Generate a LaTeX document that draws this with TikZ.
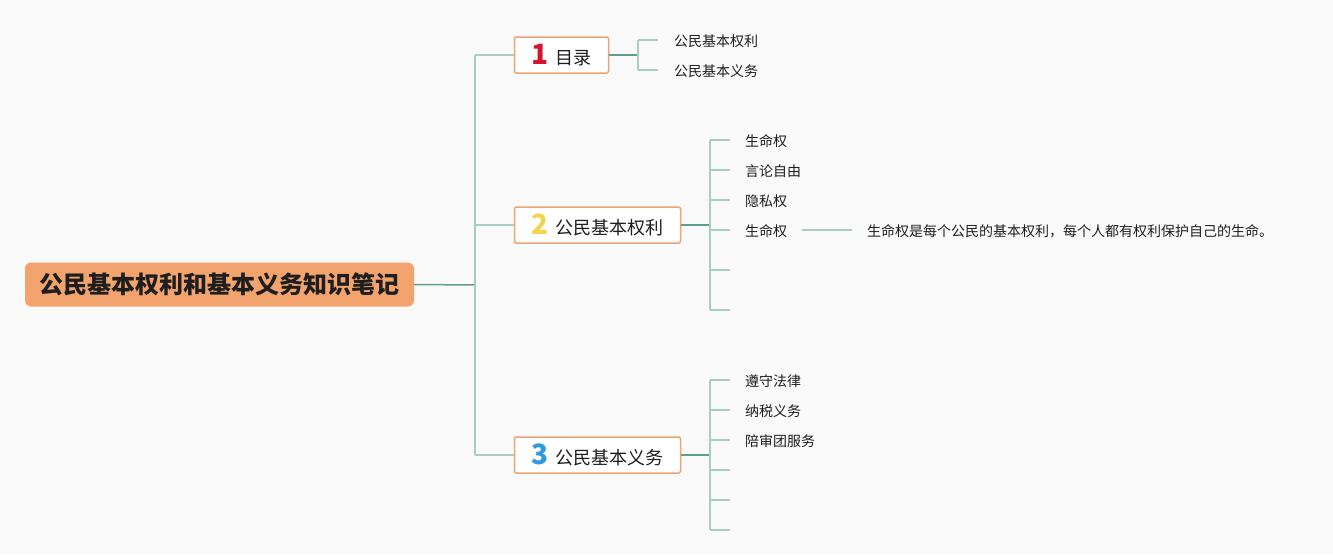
\documentclass[tikz,border=0pt]{standalone}
\usepackage{fontspec}
\setmainfont{Noto Sans CJK SC}
\definecolor{bg}{HTML}{FAFAFA}
\definecolor{rootfill}{HTML}{F3A46E}
\definecolor{boxline}{HTML}{EBA574}
\definecolor{dkline}{HTML}{5F9E8F}
\definecolor{ltline}{HTML}{A7CEC1}
\definecolor{txt}{HTML}{1E1E1E}
\definecolor{numred}{HTML}{D3152F}
\definecolor{numyel}{HTML}{F2D54E}
\definecolor{numblu}{HTML}{2C9BE0}
\tikzset{
  rootbox/.style={fill=rootfill, rounded corners=6pt, minimum width=389pt, minimum height=44pt, inner sep=0pt, text=txt, font=\fontsize{24}{26}\selectfont\bfseries},
  topicbox/.style={draw=boxline, line width=1.5pt, fill=white, rounded corners=2pt, minimum height=36pt, inner sep=0pt, text=txt, font=\fontsize{18}{20}\selectfont},
  leaf/.style={anchor=west, inner sep=0pt, text=txt, font=\fontsize{14}{16}\selectfont},
  dk/.style={draw=dkline, line width=1.5pt},
  lt/.style={draw=ltline, line width=1.5pt},
}
\newcommand{\numglyph}[2]{{\textcolor{#1}{\fontsize{28}{28}\selectfont\bfseries #2}}\hspace{7pt}}
\begin{document}
\begin{tikzpicture}[x=1pt,y=-1pt]
\useasboundingbox[fill=bg] (0,0) rectangle (1333,555);

% nodes
\node[rootbox] (root) at (219.5,284.5) {公民基本权利和基本义务知识笔记};
\node[topicbox, minimum width=94pt] (n1) at (561.5,55) {\numglyph{numred}{1}目录};
\node[topicbox, minimum width=166pt] (n2) at (597.5,225) {\numglyph{numyel}{2}公民基本权利};
\node[topicbox, minimum width=166pt] (n3) at (597.5,455) {\numglyph{numblu}{3}公民基本义务};

% leaves of n1
\node[leaf] (a1) at (674,41) {公民基本权利};
\node[leaf] (a2) at (674,71) {公民基本义务};
% leaves of n2
\node[leaf] (b1) at (745,141) {生命权};
\node[leaf] (b2) at (745,171) {言论自由};
\node[leaf] (b3) at (745,201) {隐私权};
\node[leaf] (b4) at (745,231) {生命权};
\node[leaf] (b4d) at (867,231) {生命权是每个公民的基本权利，每个人都有权利保护自己的生命。};
% leaves of n3
\node[leaf] (c1) at (745,381) {遵守法律};
\node[leaf] (c2) at (745,411) {纳税义务};
\node[leaf] (c3) at (745,441) {陪审团服务};

% coordinates
\coordinate (t0) at (475,285);
\coordinate (t1) at (475,55);
\coordinate (t2) at (475,225);
\coordinate (t3) at (475,455);
\coordinate (s1) at (638,55);
\coordinate (s2) at (710,225);
\coordinate (s3) at (710,455);

% root trunk
\draw[dk] (root.east) -- (t0);
\draw[lt] (t1) -- (t3);
\draw[lt] (t1) -- (n1.west);
\draw[lt] (t2) -- (n2.west);
\draw[lt] (t3) -- (n3.west);

% n1 branch
\draw[dk] (n1.east) -- (s1);
\draw[lt] (638,40) -- (638,70);
\foreach \y in {40,70} \draw[lt] (638,\y) -- (658,\y);

% n2 branch
\draw[dk] (n2.east) -- (s2);
\draw[lt] (710,140) -- (710,310);
\foreach \y in {140,170,200,230,270,310} \draw[lt] (710,\y) -- (730,\y);
\draw[lt] (802,230) -- (852,230);

% n3 branch
\draw[dk] (n3.east) -- (s3);
\draw[lt] (710,380) -- (710,530);
\foreach \y in {380,410,440,470,500,530} \draw[lt] (710,\y) -- (730,\y);
\end{tikzpicture}
\end{document}
